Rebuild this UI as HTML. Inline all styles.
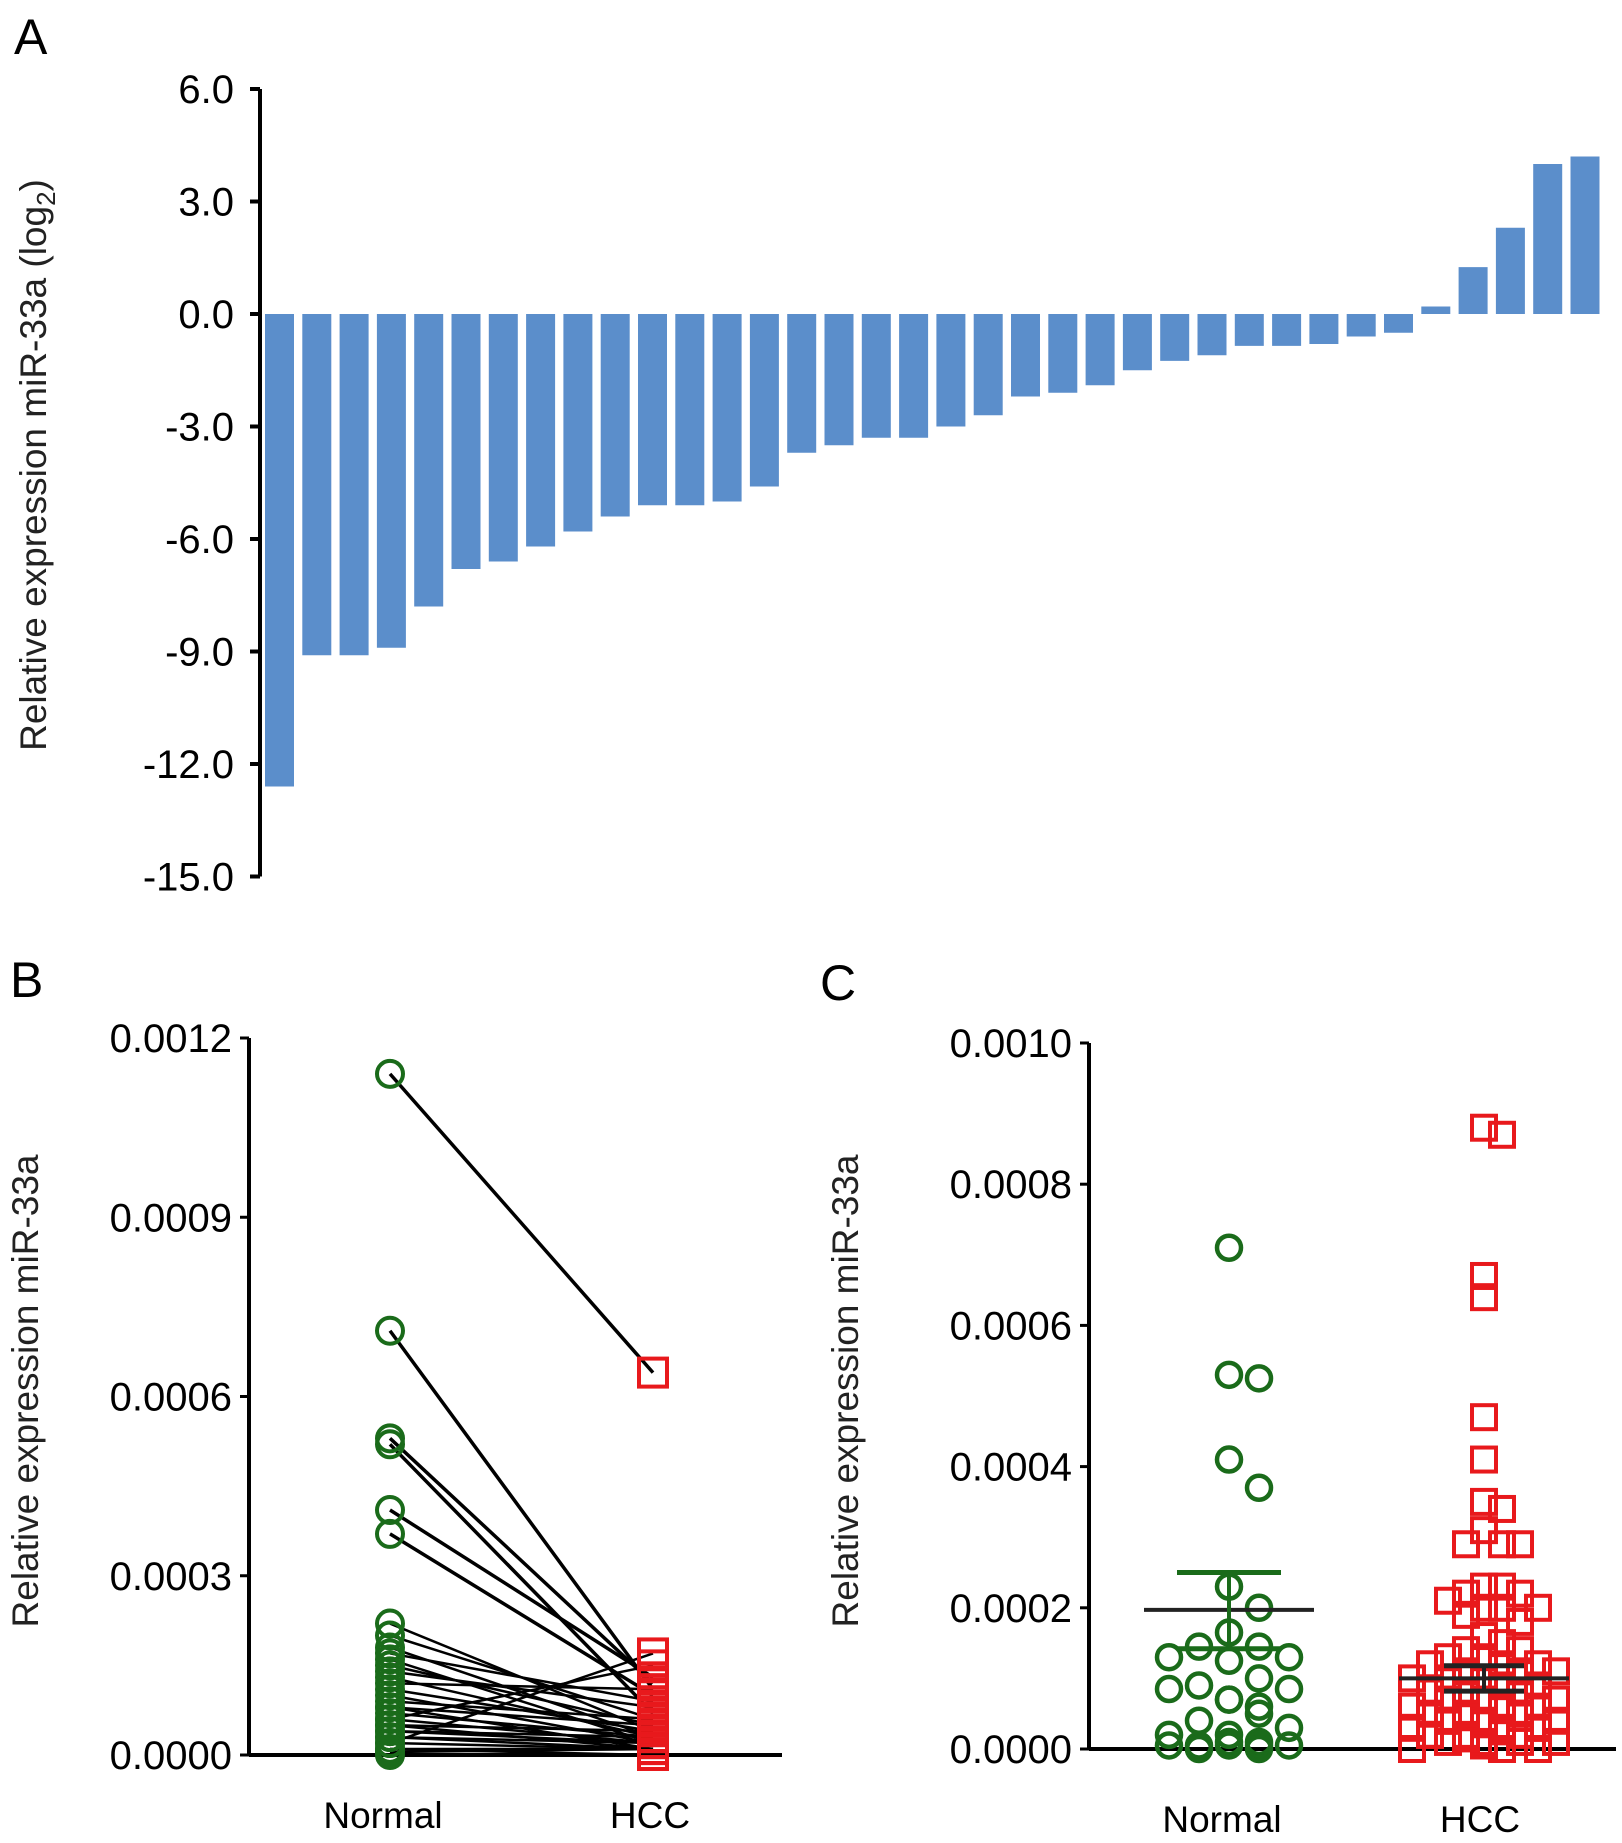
<!DOCTYPE html>
<html><head><meta charset="utf-8">
<style>
html,body{margin:0;padding:0;background:#fff;}
svg{display:block;font-family:"Liberation Sans",Arial,sans-serif;}
</style></head>
<body>
<svg id="fig" width="1622" height="1843" viewBox="0 0 1622 1843"></svg>
<script>
// ---------- Panel A data ----------
const barValues = [-12.6,-9.1,-9.1,-8.9,-7.8,-6.8,-6.6,-6.2,-5.8,-5.4,-5.1,-5.1,-5.0,-4.6,-3.7,-3.5,-3.3,-3.3,-3.0,-2.7,-2.2,-2.1,-1.9,-1.5,-1.25,-1.1,-0.85,-0.85,-0.8,-0.6,-0.5,0.2,1.25,2.3,4.0,4.2];
const aTicks = [6,3,0,-3,-6,-9,-12,-15];
const aTickLabels = ["6.0","3.0","0.0","-3.0","-6.0","-9.0","-12.0","-15.0"];
// ---------- Panel B data ----------
const pairNormal = [0.00114,0.00071,0.00053,0.00052,0.00041,0.00037,0.00022,0.00020,0.00018,0.00017,0.00016,0.00015,0.00014,0.00013,0.00012,0.00011,0.00010,0.00009,0.00008,0.00008,0.00007,0.00006,0.00006,0.00005,0.00005,0.00004,0.00004,0.00003,0.00003,0.00002,0.00002,0.00001,0.00001,0.000005,0.0];
const pairHCC =    [0.00064,0.00011,0.00012,0.00007,0.00013,0.00010,0.00004,0.00006,0.00003,0.00009,0.00002,0.00005,0.00008,0.00003,0.00011,0.00004,0.00002,0.00006,0.00001,0.00005,0.00003,0.00002,0.00015,0.00001,0.00004,0.00002,0.00003,0.00001,0.00002,0.00001,0.00017,0.00001,0.00000,0.00001,0.0];
const bTicks = [0,0.0003,0.0006,0.0009,0.0012];
const bTickLabels = ["0.0000","0.0003","0.0006","0.0009","0.0012"];
// ---------- Panel C data ----------
const cNormal = [0.00071,0.00053,0.000525,0.00041,0.00037,0.00023,0.0002,0.000165,0.000145,0.000145,0.00013,0.00013,0.000125,0.0001,0.00009,0.000085,0.000085,0.00007,0.00007,0.00006,0.00005,0.00004,0.00003,0.00002,0.00002,0.00001,0.00001,0.000005,0.000005,0.000005,0.000005,0.000005,0.0,0.0];
const cHCC = [0.00088,0.00087,0.00067,0.00064,0.00047,0.00041,0.00035,0.00034,0.00031,0.00029,0.00029,0.00029,0.00023,0.00023,0.00022,0.00022,0.00021,0.0002,0.0002,0.0002,0.00019,0.00018,0.00016,0.00015,0.00014,0.00014,0.00013,0.00013,0.00012,0.00012,0.00012,0.00011,0.00011,0.00011,0.0001,0.0001,0.0001,0.00009,0.00009,0.00008,0.00008,0.00008,0.00007,0.00007,0.00007,0.00006,0.00006,0.00006,0.00005,0.00005,0.00005,0.00004,0.00004,0.00004,0.00003,0.00003,0.00003,0.00002,0.00002,0.00002,0.00001,0.00001,0.00001,0,0,0,0.000005,0.000015,0.000025,0.000035,0.000045,0.000055,0.00001,0.00002,0.00003,0.00004,0.00005,0.0];
const cStats = {normalMean:0.000197, normalSemHi:0.00025, normalSemLo:0.000142, hccMean:0.0001, hccSemHi:0.000118, hccSemLo:0.000082};
const cTicks = [0,0.0002,0.0004,0.0006,0.0008,0.001];
const cTickLabels = ["0.0000","0.0002","0.0004","0.0006","0.0008","0.0010"];

const NS="http://www.w3.org/2000/svg";
const svg=document.getElementById('fig');
function mk(tag,attrs,parent){const e=document.createElementNS(NS,tag);for(const k in attrs)e.setAttribute(k,attrs[k]);(parent||svg).appendChild(e);return e;}
function txt(s,attrs,parent){const e=mk('text',attrs,parent);e.textContent=s;return e;}

// ===== Panel A =====
const gA=mk('g',{});


const yA=v=>314-v*37.5;
const pl=txt('A',{x:14,y:54,'font-size':50},gA);

const axA=mk('line',{x1:260,y1:yA(6),x2:260,y2:yA(-15),stroke:'#000','stroke-width':4},gA);

aTicks.forEach((t,i)=>{
  const tk=mk('line',{x1:250,y1:yA(t),x2:260,y2:yA(t),stroke:'#000','stroke-width':4},gA);
  
  const l=txt(aTickLabels[i],{x:234,y:yA(t)+14,'font-size':40,'text-anchor':'end'},gA);
  
});
const tA=txt('',{transform:'translate(46,465) rotate(-90)','font-size':37,'text-anchor':'middle',fill:'#222'},gA);
tA.innerHTML='Relative expression miR-33a (log<tspan font-size="26" dy="9">2</tspan><tspan dy="-9">)</tspan>';

const pitch=37.3;
barValues.forEach((v,i)=>{
  const x=265+i*pitch;
  const y0=yA(Math.max(v,0)), y1=yA(Math.min(v,0));
  const r=mk('rect',{x:x,y:y0,width:29,height:Math.max(y1-y0,1),fill:'#5b8ecb'},gA);
  
});

// ===== Panel B =====
const gB=mk('g',{});


const yB=v=>1755-v/0.0003*179.25;
const xBN=390, xBH=653;
const plb=txt('B',{x:10,y:997,'font-size':50},gB);

const axB=mk('line',{x1:249,y1:yB(0.0012),x2:249,y2:1755,stroke:'#000','stroke-width':4},gB);

const axBx=mk('line',{x1:249,y1:1755,x2:782,y2:1755,stroke:'#000','stroke-width':4},gB);

bTicks.forEach((t,i)=>{
  const tk=mk('line',{x1:240,y1:yB(t),x2:249,y2:yB(t),stroke:'#000','stroke-width':3},gB);
  
  const l=txt(bTickLabels[i],{x:232,y:yB(t)+14,'font-size':40,'text-anchor':'end'},gB);
  
});
const tB=txt('Relative expression miR-33a',{transform:'translate(38,1391) rotate(-90)','font-size':37,'text-anchor':'middle',fill:'#222'},gB);

pairNormal.forEach((n,i)=>{
  const ln=mk('line',{x1:xBN,y1:yB(n),x2:xBH,y2:yB(pairHCC[i]),stroke:'#000','stroke-width':i<6?3.5:2.5},gB);
  
});
pairNormal.forEach(n=>{
  const c=mk('circle',{cx:xBN,cy:yB(n),r:13,fill:'none',stroke:'#1a6b1a','stroke-width':4},gB);
  
});
pairHCC.forEach(h=>{
  const s=mk('rect',{x:xBH-14,y:yB(h)-14,width:28,height:28,fill:'none',stroke:'#e8191c','stroke-width':4},gB);
  
});
const lbn=txt('Normal',{x:383,y:1828,'font-size':37,'text-anchor':'middle'},gB);

const lbh=txt('HCC',{x:650,y:1828,'font-size':37,'text-anchor':'middle'},gB);


// ===== Panel C =====
const gC=mk('g',{});


const yC=v=>1749-v/0.001*706;
const xCN=1229, xCH=1484;
const plc=txt('C',{x:820,y:1000,'font-size':50},gC);

const axC=mk('line',{x1:1089,y1:yC(0.001),x2:1089,y2:1749,stroke:'#000','stroke-width':4},gC);

const axCx=mk('line',{x1:1089,y1:1749,x2:1616,y2:1749,stroke:'#000','stroke-width':4},gC);

cTicks.forEach((t,i)=>{
  const tk=mk('line',{x1:1080,y1:yC(t),x2:1089,y2:yC(t),stroke:'#000','stroke-width':3},gC);
  
  const l=txt(cTickLabels[i],{x:1072,y:yC(t)+14,'font-size':40,'text-anchor':'end'},gC);
  
});
const tC=txt('Relative expression miR-33a',{transform:'translate(858,1391) rotate(-90)','font-size':37,'text-anchor':'middle',fill:'#222'},gC);


function swarm(vals,cx,yf,d,maxOff){
  const placed=[];const out=[];
  vals.forEach(v=>{
    const y=yf(v);let best=null,bestC=1e9;
    for(let k=0;k*d<=maxOff;k++){
      for(const s of (k===0?[0]:[1,-1])){
        const x=cx+s*k*d;
        let c=0;placed.forEach(p=>{if(Math.hypot(p[0]-x,p[1]-y)<d*0.95)c++;});
        if(c<bestC){bestC=c;best=x;}
        if(c===0)break;
      }
      if(bestC===0)break;
    }
    placed.push([best,y]);out.push([best,y]);
  });
  return out;
}
swarm(cNormal,xCN,yC,30,75).forEach(p=>{
  const c=mk('circle',{cx:p[0],cy:p[1],r:12,fill:'none',stroke:'#1a6b1a','stroke-width':4.5},gC);
  
});
swarm(cHCC,xCH,yC,18,80).forEach(p=>{
  const s=mk('rect',{x:p[0]-12,y:p[1]-12,width:24,height:24,fill:'none',stroke:'#e8191c','stroke-width':4},gC);
  
});
function statLines(cx,mean,hi,lo,w,color,nm){
  const m=mk('line',{x1:cx-85,y1:yC(mean),x2:cx+85,y2:yC(mean),stroke:'#222','stroke-width':4},gC);
  
  const v=mk('line',{x1:cx,y1:yC(hi),x2:cx,y2:yC(lo),stroke:color,'stroke-width':4},gC);
  
  [hi,lo].forEach(t=>{
    const c=mk('line',{x1:cx-w,y1:yC(t),x2:cx+w,y2:yC(t),stroke:color,'stroke-width':5},gC);
    
  });
}
statLines(xCN,cStats.normalMean,cStats.normalSemHi,cStats.normalSemLo,52,'#1a6b1a','normal');
statLines(xCH,cStats.hccMean,cStats.hccSemHi,cStats.hccSemLo,40,'#222','hcc');
const lcn=txt('Normal',{x:1222,y:1832,'font-size':37,'text-anchor':'middle'},gC);

const lch=txt('HCC',{x:1480,y:1832,'font-size':37,'text-anchor':'middle'},gC);

</script>
</body></html>
